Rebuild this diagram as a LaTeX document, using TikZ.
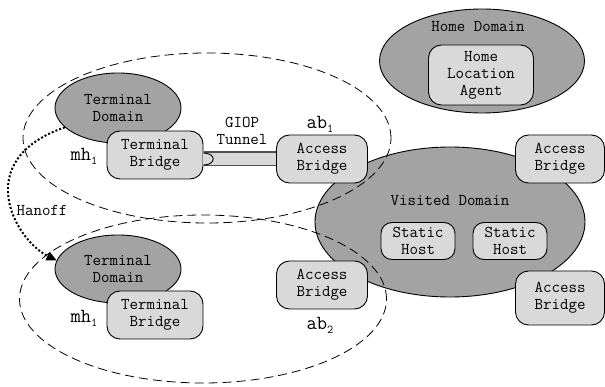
\documentclass[tikz,border=0pt]{standalone}
\usepackage{fontspec}
\usetikzlibrary{arrows.meta,shapes.geometric,calc}
\definecolor{domfill}{HTML}{A3A3A3}
\definecolor{boxfill}{HTML}{D9D9D9}
\definecolor{tunnelline}{HTML}{505050}
\begin{document}
\begin{tikzpicture}[x=1pt,y=-1pt,
  every node/.style={font=\fontsize{16.5}{17}\ttfamily},
  domshape/.style={ellipse, draw, fill=domfill, line width=0.9pt, inner sep=0pt, align=center},
  bridgebox/.style={rectangle, rounded corners=13pt, draw, fill=boxfill, line width=0.9pt,
    inner sep=0pt, align=center, minimum width=91pt, minimum height=48pt},
  hostbox/.style={bridgebox, rounded corners=11pt, minimum width=74pt, minimum height=37pt},
  cellring/.style={ellipse, draw, dash pattern=on 9pt off 5pt, line width=0.8pt, inner sep=0pt},
  sublbl/.style={font=\fontsize{20}{20}\ttfamily, inner sep=0pt},
  plaintext/.style={inner sep=0pt, align=center},
]
\useasboundingbox (0,0) rectangle (605,387);

% Home domain
\node[domshape, minimum width=205pt, minimum height=104pt] (home) at (482,61) {};
\node[plaintext] (homelbl) at (478,27) {Home Domain};
\node[bridgebox, minimum width=105pt, minimum height=60pt] (hla) at (481,75) {Home\\Location\\Agent};

% Visited domain
\node[domshape, minimum width=270pt, minimum height=150pt] (visited) at (450,222) {};
\node[plaintext] (visitedlbl) at (450,201) {Visited Domain};
\node[hostbox] (sh1) at (418,241) {Static\\Host};
\node[hostbox] (sh2) at (510,241) {Static\\Host};

% Access bridges
\node[bridgebox, minimum width=89pt] (abtr) at (560,159) {Access\\Bridge};
\node[bridgebox, minimum width=89pt, minimum height=54pt] (abbr) at (560,298) {Access\\Bridge};
\node[bridgebox] (ab1) at (322,159) {Access\\Bridge};
\node[bridgebox] (ab2) at (322,285) {Access\\Bridge};
\node[sublbl] (ab1lbl) at (320,124) {ab\raisebox{-4pt}{\fontsize{12}{12}\selectfont 1}};
\node[sublbl] (ab2lbl) at (320,325) {ab\raisebox{-4pt}{\fontsize{12}{12}\selectfont 2}};

% Terminal (top)
\node[domshape, minimum width=126pt, minimum height=70pt] (td1) at (118,108) {Terminal\\Domain};
\node[bridgebox, minimum width=96pt] (tb1) at (155,155) {Terminal\\Bridge};
\node[sublbl] (mh1) at (84,156) {mh\raisebox{-4pt}{\fontsize{12}{12}\selectfont 1}};

% Terminal (bottom)
\node[domshape, minimum width=126pt, minimum height=68pt] (td2) at (118,269) {Terminal\\Domain};
\node[bridgebox, minimum width=96pt] (tb2) at (155,315) {Terminal\\Bridge};
\node[sublbl] (mh2) at (84,318) {mh\raisebox{-4pt}{\fontsize{12}{12}\selectfont 1}};

% GIOP tunnel
\draw[line width=1.5pt, draw=tunnelline, double=boxfill, double distance=12pt,
      shorten <=0.5pt, shorten >=0.5pt]
  (tb1.east |- ab1.west) -- (ab1.west);
\draw[line width=0.9pt, fill=boxfill]
  ($(tb1.east |- ab1.west)+(0,-6)$) .. controls +(13,0) and +(13,0) .. ($(tb1.east |- ab1.west)+(0,6)$);
\node[plaintext] (giop) at (242,131) {GIOP\\Tunnel};

% Cells (dashed)
\node[cellring, minimum width=368pt, minimum height=170pt] (cell1) at (207,138) {};
\node[cellring, minimum width=367pt, minimum height=168pt] (cell2) at (203,299) {};

% Handoff
\draw[line width=2pt, dash pattern=on 2pt off 2pt, -{Triangle[length=10pt,width=9pt]}]
  (td1.200) .. controls (-30,160) and (15,240) .. (td2.172);
\node[plaintext] (hanoff) at (42,210) {Hanoff};
\end{tikzpicture}
\end{document}
